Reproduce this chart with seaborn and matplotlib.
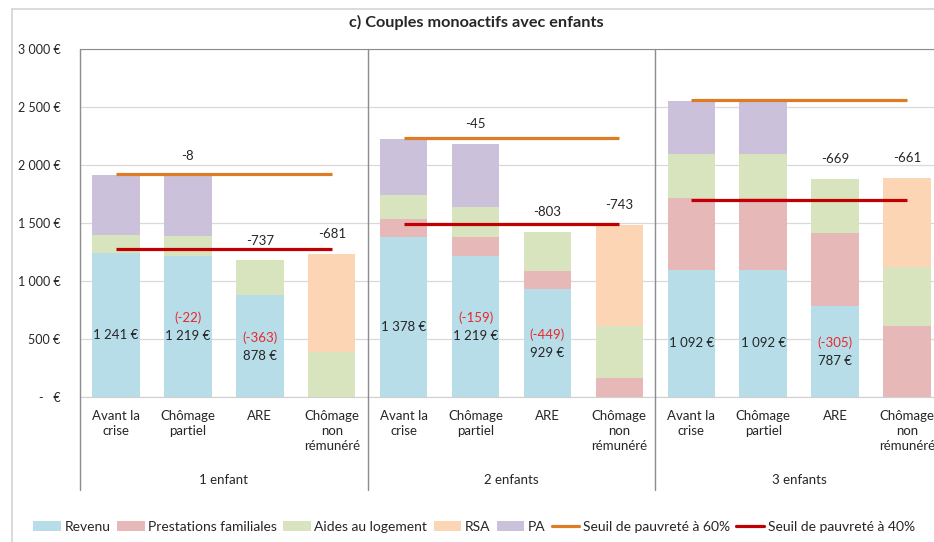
import numpy as np
import pandas as pd
import matplotlib
matplotlib.use("Agg")
import matplotlib.pyplot as plt
from matplotlib.lines import Line2D
from matplotlib.patches import Patch
import seaborn as sns

sns.set_style('white')
plt.rcParams['font.family'] = ['Lato', 'DejaVu Sans']

# ---- data ----
groups = ['1 enfant', '2 enfants', '3 enfants']
situations = ['Avant la\ncrise', 'Chômage\npartiel', 'ARE', 'Chômage\nnon\nrémunéré']

revenu = [1241, 1219, 878, 0, 1378, 1219, 929, 0, 1092, 1092, 787, 0]
prestations = [0, 0, 0, 0, 156, 160, 160, 164, 623, 623, 627, 612]
aides_logement = [155, 169, 303, 388, 207, 259, 336, 448, 380, 380, 469, 509]
rsa = [0, 0, 0, 849, 0, 0, 0, 873, 0, 0, 0, 770]
pa = [522, 522, 0, 0, 487, 545, 0, 0, 457, 457, 0, 0]

seuil_60 = [1922, 2233, 2560]
seuil_40 = [1276, 1491, 1698]

# difference of total vs "avant la crise" (black) and of revenu (red)
diff_total = [None, -8, -737, -681, None, -45, -803, -743, None, None, -669, -661]
diff_revenu = [None, -22, -363, None, None, -159, -449, None, None, None, -305, None]

series = ['Revenu', 'Prestations familiales', 'Aides au logement', 'RSA', 'PA']
colors = ['#b7dde8', '#e6b9b8', '#d7e4bd', '#fcd5b5', '#ccc1da']
c60 = '#e07b25'
c40 = '#c00000'

df = pd.DataFrame({'Revenu': revenu, 'Prestations familiales': prestations,
                   'Aides au logement': aides_logement, 'RSA': rsa, 'PA': pa})
df['id'] = [str(i) for i in range(len(df))]
cum = df[series].cumsum(axis=1)

fig = plt.figure(figsize=(9.34, 5.42), dpi=100)
W, H = 934, 542
ax = fig.add_axes([80 / W, 1 - 397 / H, (943 - 80) / W, (397 - 49) / H])

# stacked bars: draw cumulative sums from the top layer down
for s, c in reversed(list(zip(series, colors))):
    sns.barplot(x=df['id'], y=cum[s], order=df['id'], color=c, saturation=1,
                width=0.66, linewidth=0, ax=ax)

ax.set_xlim(-0.5, 11.5)
ax.set_ylim(0, 3000)

# poverty lines, from first to last bar of each group
for g in range(3):
    ax.hlines(seuil_60[g], g * 4, g * 4 + 3, color=c60, lw=2.3, zorder=5)
    ax.hlines(seuil_40[g], g * 4, g * 4 + 3, color=c40, lw=2.3, zorder=5)

totals = cum['PA'].values
for i in range(12):
    if diff_total[i] is not None:
        ax.annotate(f"{diff_total[i]}", (i, totals[i]), xytext=(0, 14),
                    textcoords='offset points', ha='center', va='center',
                    fontsize=9.5, color='#262626', zorder=6)
    if revenu[i] > 0:
        lab = f"{revenu[i]:,} €".replace(',', ' ')
        ax.annotate(lab, (i, revenu[i] / 2), xytext=(0, -7),
                    textcoords='offset points', ha='center', va='center',
                    fontsize=9.5, color='#262626', zorder=6)
    if diff_revenu[i] is not None:
        ax.annotate(f"({diff_revenu[i]})", (i, revenu[i] / 2), xytext=(0, 6),
                    textcoords='offset points', ha='center', va='center',
                    fontsize=9.5, color='#e8282c', zorder=6)

# axes styling
ax.set_yticks(np.arange(0, 3001, 500))
ax.set_yticklabels([f"{v:,} €".replace(',', ' ') if v else "-   €"
                    for v in range(0, 3001, 500)], fontsize=9, color='#262626')
ax.yaxis.grid(True, color='#d9d9d9', lw=0.9)
ax.set_axisbelow(True)
ax.set_xticks(range(12))
ax.set_xticklabels(situations * 3, fontsize=9.5, color='#262626',
                   linespacing=1.35, va='top')
ax.tick_params(axis='both', length=0)
ax.tick_params(axis='x', pad=9)
ax.tick_params(axis='y', pad=14)
ax.set_xlabel('')
ax.set_ylabel('')
for sp in ['left', 'right']:
    ax.spines[sp].set_visible(False)
ax.spines['top'].set_color('#8c8c8c')
ax.spines['bottom'].set_color('#d0d0d0')

xt = ax.get_xaxis_transform()
for xs in [-0.5, 3.5, 7.5]:
    ax.plot([xs, xs], [1, -0.267], transform=xt, color='#8c8c8c', lw=1,
            clip_on=False, zorder=6)
for g, name in enumerate(groups):
    ax.text(g * 4 + 1.5, -0.238, name, transform=xt, ha='center', va='center',
            fontsize=9.5, color='#262626')

# chart frame and title
fig.add_artist(Line2D([12 / W, 12 / W], [0, 1 - 9 / H], color='#d4d4d4', lw=1.2))
fig.add_artist(Line2D([12 / W, 1], [1 - 9 / H, 1 - 9 / H], color='#d4d4d4', lw=1.2))
fig.text(476 / W, 1 - 22 / H, 'c) Couples monoactifs avec enfants',
         ha='center', va='center', fontsize=11.7, fontweight='bold', color='#262626')

handles = [Patch(facecolor=c, edgecolor='none') for c in colors]
handles += [Line2D([], [], color=c60, lw=2.3), Line2D([], [], color=c40, lw=2.3)]
labels = series + ['Seuil de pauvreté à 60%', 'Seuil de pauvreté à 40%']
fig.legend(handles, labels, loc='center', bbox_to_anchor=(474 / W, 1 - 527 / H),
           ncol=7, frameon=False, fontsize=10, handlelength=2.0, handleheight=0.7,
           handletextpad=0.25, columnspacing=0.45, labelcolor='#262626')

fig.savefig('out.png', dpi=100)
